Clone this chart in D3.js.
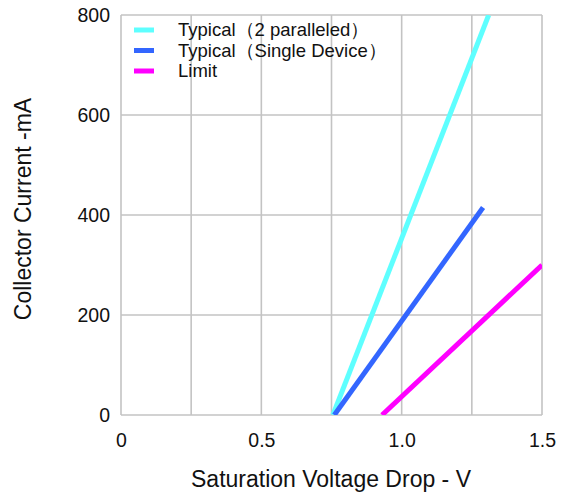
<!DOCTYPE html>
<html>
<head>
<meta charset="utf-8">
<script src="https://cdn.jsdelivr.net/npm/d3@7"></script>
<style>
  body { margin: 0; background: #fff; }
  text { font-family: "Liberation Sans", Arial, sans-serif; fill: #111; }
</style>
</head>
<body>
<script>
const seriesNames = ["Typical（2 paralleled）", "Typical（Single Device）", "Limit"]
const seriesColors = ["#5effff", "#3366ff", "#ff00ff"]
const paralleled = [[0.755, 0], [1.31, 800]]
const single = [[0.76, 0], [1.29, 415]]
const limit = [[0.93, 0], [1.5, 300]]
const xTicks = [0, 0.5, 1.0, 1.5]
const xGrid = [0, 0.25, 0.5, 0.75, 1.0, 1.25, 1.5]
const yTicks = [0, 200, 400, 600, 800]

const width = 562
const height = 500
const margin = { left: 121, right: 20, top: 15, bottom: 85 }

const svg = d3.select("body").append("svg")
    .attr("width", width)
    .attr("height", height)

const x = d3.scaleLinear().domain([0, 1.5]).range([margin.left, width - margin.right])
const y = d3.scaleLinear().domain([0, 800]).range([height - margin.bottom, margin.top])

// grid
svg.append("g").selectAll("line")
    .data(xGrid).enter().append("line")
        .attr("x1", d => x(d)).attr("x2", d => x(d))
        .attr("y1", y(0)).attr("y2", y(800))
        .attr("stroke", "#c3c3c3").attr("stroke-width", 1.6)
svg.append("g").selectAll("line")
    .data(yTicks).enter().append("line")
        .attr("x1", x(0)).attr("x2", x(1.5))
        .attr("y1", d => y(d)).attr("y2", d => y(d))
        .attr("stroke", "#c3c3c3").attr("stroke-width", 1.6)

// axes
const xAxis = svg.append("g")
    .attr("transform", `translate(0,${y(0)})`)
    .call(d3.axisBottom(x).tickValues(xTicks).tickSize(0).tickPadding(18)
        .tickFormat(d => d === 0 ? "0" : d3.format(".1f")(d)))
xAxis.select(".domain").remove()
xAxis.selectAll("text").style("font-size", "19.5px")

const yAxis = svg.append("g")
    .attr("transform", `translate(${x(0)},0)`)
    .call(d3.axisLeft(y).tickValues(yTicks).tickSize(0).tickPadding(11))
yAxis.select(".domain").remove()
yAxis.selectAll("text").style("font-size", "19.5px")

svg.append("text")
    .attr("x", 331).attr("y", 487)
    .attr("text-anchor", "middle")
    .style("font-size", "23px")
    .text("Saturation Voltage Drop - V")

svg.append("text")
    .attr("transform", "translate(31,209) rotate(-90)")
    .attr("text-anchor", "middle")
    .style("font-size", "23px")
    .text("Collector Current -mA")

// curves
const line = d3.line().x(d => x(d[0])).y(d => y(d[1]))
svg.append("clipPath").attr("id", "plot")
    .append("rect")
        .attr("x", x(0)).attr("y", y(800))
        .attr("width", x(1.5) - x(0)).attr("height", y(0) - y(800))
const curves = svg.append("g").attr("clip-path", "url(#plot)")
;[paralleled, single, limit].forEach((s, i) => {
    curves.append("path")
        .attr("d", line(s))
        .attr("fill", "none")
        .attr("stroke", seriesColors[i])
        .attr("stroke-width", 5)
})

// legend
const legend = svg.append("g").attr("transform", "translate(134,30)")
seriesNames.forEach((name, i) => {
    const row = legend.append("g").attr("transform", `translate(0,${i * 20.5})`)
    row.append("line")
        .attr("x1", 0).attr("x2", 20)
        .attr("stroke", seriesColors[i]).attr("stroke-width", 5)
    row.append("text")
        .attr("x", 44).attr("y", 6)
        .style("font-size", "18.5px")
        .text(name)
})
</script>
</body>
</html>
